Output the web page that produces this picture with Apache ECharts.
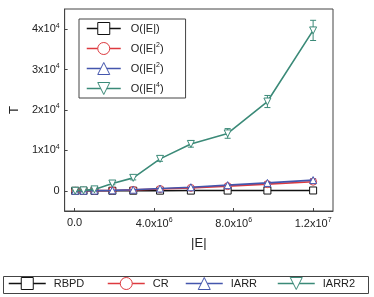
<!DOCTYPE html>
<html><head><meta charset="utf-8">
<script src="https://cdn.jsdelivr.net/npm/echarts@6/dist/echarts.min.js"></script>
<style>html,body{margin:0;padding:0;background:#fff}#c{width:374px;height:297px}</style>
</head><body><div id="c"></div>
<script>
const edges = [30000, 450000, 1000000, 1900000, 2950000, 4300000, 5850000, 7700000, 9700000, 12000000];
const rbpd = [5, 8, 12, 18, 25, 35, 45, 55, 65, 80];
const rbpdErr = [5, 5, 8, 10, 15, 20, 25, 30, 35, 40];
const cr = [10, 15, 40, 90, 220, 450, 720, 1150, 1650, 2250];
const crErr = [10, 15, 30, 50, 80, 100, 120, 150, 180, 250];
const iarr = [10, 20, 50, 110, 260, 560, 880, 1400, 1950, 2650];
const iarrErr = [10, 15, 30, 60, 90, 120, 150, 200, 250, 350];
const iarr2 = [0, 100, 350, 1800, 3200, 7900, 11600, 14200, 22100, 39700];
const iarr2Err = [50, 80, 150, 300, 500, 600, 800, 1200, 1500, 2500];
const seriesNames = ['RBPD', 'CR', 'IARR', 'IARR2'];
const innerLabels = {RBPD: ['O(|E|', ''], CR: ['O(|E|', '2'], IARR: ['O(|E|', '2'], IARR2: ['O(|E|', '4']};
const xTicks = [0, 4000000, 8000000, 12000000];
const xTickLabels = {0: ['0.0', ''], 4000000: ['4.0x10', '6'], 8000000: ['8.0x10', '6'], 12000000: ['1.2x10', '7']};
const yTicks = [0, 10000, 20000, 30000, 40000];
const yTickLabels = {0: ['0', ''], 10000: ['1x10', '4'], 20000: ['2x10', '4'], 30000: ['3x10', '4'], 40000: ['4x10', '4']};

const colors = ['#111111', '#dd3a3f', '#4456ad', '#3b8a78'];
const symbols = ['rect', 'circle', 'triangle', 'triangle'];
const rotates = [0, 0, 0, 180];
const values = [rbpd, cr, iarr, iarr2];
const errs = [rbpdErr, crErr, iarrErr, iarr2Err];
const FONT = 'Liberation Sans, Arial, sans-serif';
const rich = {
  t: {fontSize: 11, fontFamily: FONT, color: '#222'},
  s: {fontSize: 7, fontFamily: FONT, color: '#222', padding: [0, 0, 7, 0]}
};
function supFmt(pair) { return pair[1] ? '{t|' + pair[0] + '}{s|' + pair[1] + '}' : '{t|' + pair[0] + '}'; }

const series = [];
seriesNames.forEach((n, i) => {
  series.push({
    name: n, type: 'line', data: edges.map((x, k) => [x, values[i][k]]),
    symbol: symbols[i], symbolSize: 7, symbolRotate: rotates[i],
    lineStyle: {color: colors[i], width: i === 0 ? 1.5 : 1.6},
    itemStyle: {color: '#fff', borderColor: colors[i], borderWidth: 1},
    z: 3 + i
  });
  series.push({
    name: n + '_err', type: 'custom', silent: true, z: 2 + i,
    data: edges.map((x, k) => [x, values[i][k] - errs[i][k], values[i][k] + errs[i][k]]),
    encode: {x: 0, y: [1, 2]},
    renderItem: (function (col) {
      return function (params, api) {
        const x = api.value(0), lo = api.value(1), hi = api.value(2);
        const a = api.coord([x, hi]), b = api.coord([x, lo]);
        const w = 3;
        const st = {stroke: col, lineWidth: 1};
        return {type: 'group', children: [
          {type: 'line', shape: {x1: a[0], y1: a[1], x2: b[0], y2: b[1]}, style: st},
          {type: 'line', shape: {x1: a[0] - w, y1: a[1], x2: a[0] + w, y2: a[1]}, style: st},
          {type: 'line', shape: {x1: b[0] - w, y1: b[1], x2: b[0] + w, y2: b[1]}, style: st}
        ]};
      };
    })(colors[i])
  });
});

const bottomLeft = [8, 107, 185, 277];
const legends = [{
  data: seriesNames, orient: 'vertical', left: 79, top: 19,
  itemWidth: 34, itemHeight: 15, itemGap: 6.5,
  padding: [3, 22, 3, 7], backgroundColor: '#fff', borderColor: '#444', borderWidth: 1,
  formatter: n => supFmt(innerLabels[n]) + '{t|)}',
  textStyle: {rich: rich, padding: [0, 0, 0, 5]},
  itemStyle: {borderWidth: 1},
  lineStyle: {width: 1.5},
  selectedMode: false
}];
seriesNames.forEach((n, i) => {
  legends.push({
    data: [n], left: bottomLeft[i], top: 277, itemWidth: 37, itemHeight: 15,
    padding: 0, selectedMode: false,
    itemStyle: {borderWidth: 1},
    lineStyle: {width: 1.5},
    textStyle: {fontSize: 11, fontFamily: FONT, color: '#222', padding: [0, 0, 0, 3]}
  });
});

const chart = echarts.init(document.getElementById('c'), null, {renderer: 'canvas'});
chart.setOption({
  animation: false,
  backgroundColor: '#fff',
  grid: {left: 63, right: 41, top: 9, bottom: 86, show: true, borderColor: '#444', borderWidth: 1, backgroundColor: 'transparent'},
  xAxis: {
    type: 'value', min: -500000, max: 13000000,
    name: '|E|', nameLocation: 'middle', nameGap: 26,
    nameTextStyle: {fontSize: 13, fontFamily: FONT, color: '#222'},
    axisLine: {onZero: false, lineStyle: {color: '#444'}},
    axisTick: {inside: true, length: 3, lineStyle: {color: '#444'}, customValues: xTicks},
    axisLabel: {margin: 6, customValues: xTicks, formatter: v => supFmt(xTickLabels[v]), rich: rich},
    splitLine: {show: false}
  },
  yAxis: {
    type: 'value', min: -5000, max: 45000,
    name: 'T', nameLocation: 'middle', nameGap: 41,
    nameTextStyle: {fontSize: 13, fontFamily: FONT, color: '#222'},
    axisLine: {show: true, onZero: false, lineStyle: {color: '#444'}},
    axisTick: {show: true, inside: true, length: 3, lineStyle: {color: '#444'}, customValues: yTicks},
    axisLabel: {margin: 5, customValues: yTicks, formatter: v => supFmt(yTickLabels[v]), rich: rich},
    splitLine: {show: false}
  },
  legend: legends,
  graphic: [{type: 'rect', shape: {x: 3.5, y: 276.5, width: 365, height: 17}, style: {fill: 'none', stroke: '#444', lineWidth: 1}, silent: true, z: -1}],
  series: series
});
</script></body></html>
